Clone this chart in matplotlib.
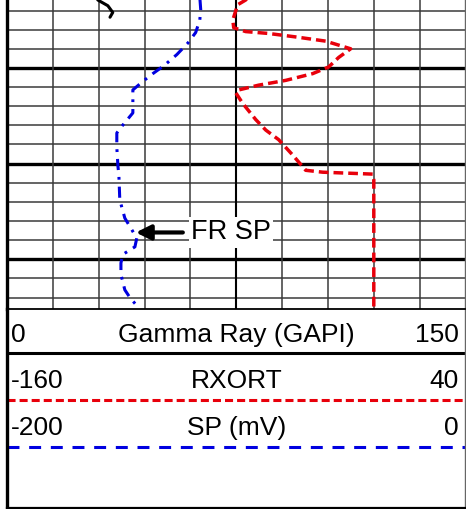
import numpy as np
import matplotlib
matplotlib.use("Agg")
from matplotlib import pyplot as plt

plt.rcParams['font.family'] = ['Liberation Sans', 'DejaVu Sans']
plt.rcParams['lines.scale_dashes'] = False

# depth (ft) and log readings
sp_depth = [1002.6, 1003.9, 1005.0, 1006.3, 1007.4, 1008.6, 1009.7, 1010.6, 1011.4,
            1012.3, 1013.7, 1014.7, 1016.1, 1016.8, 1018.3, 1020.3, 1021.2, 1023.8,
            1025.7, 1027.1, 1027.8, 1028.7, 1029.5, 1030.4, 1031.6, 1033.2, 1034.0, 1035.1]
sp_mv = [-115.9, -115.5, -115.9, -117.7, -121.1, -125.9, -131.2, -136.4, -140.7,
         -145.1, -145.1, -145.1, -149.9, -152.1, -152.1, -151.6, -151.2, -150.8,
         -148.6, -145.1, -143.4, -144.2, -149.5, -150.3, -150.3, -148.6, -146.4, -142.5]

rx_depth = [1002.4, 1002.9, 1003.4, 1005.0, 1005.8, 1006.2, 1006.4, 1006.8, 1007.2,
            1008.0, 1008.9, 1009.9, 1010.6, 1011.3, 1011.8, 1012.3, 1012.6, 1013.7,
            1015.4, 1016.5, 1017.5, 1019.1, 1020.7, 1020.9, 1021.1, 1021.7, 1035.3]
rxort = [-54.1, -55.9, -59.4, -61.5, -61.1, -55.9, -45.8, -32.8, -21.0,
         -10.1, -15.3, -19.7, -26.7, -38.4, -50.2, -58.9, -60.2, -57.2,
         -51.5, -47.1, -41.5, -35.4, -29.7, -22.3, -0.5, 0.0, 0.0]

gr_depth = [1002.6, 1002.9, 1003.5, 1004.2, 1004.7]
gr_gapi = [29.4, 29.7, 33.0, 34.6, 33.7]

arrow_depth = 1027.2
arrow_tip_sp = -143.8
arrow_tail_sp = -123.3

top_depth, bottom_depth = 1002.9, 1035.2
minor_depths = np.arange(1004, 1036, 2)
major_depths = [1010, 1020, 1030]
gr_lines = np.arange(15, 150, 15)

fig = plt.figure(figsize=(4.66, 5.09), dpi=100)
W, H = 466.0, 509.0

# main log track
ax = fig.add_axes([7 / W, 1 - 309 / H, 458.5 / W, 309 / H])
ax.set_xlim(0, 150)
ax.set_ylim(bottom_depth, top_depth)
for d in minor_depths:
    if d not in major_depths:
        ax.axhline(d, color='#3a3a3a', lw=1.1, zorder=0)
for d in major_depths:
    ax.axhline(d, color='black', lw=2.4, zorder=0)
for g in gr_lines:
    ax.axvline(g, color='black' if g == 75 else '#3a3a3a', lw=1.5 if g == 75 else 1.1, zorder=0)
ax.set_xticks([])
ax.set_yticks([])
ax.spines['top'].set_visible(False)
ax.spines['bottom'].set_visible(False)
ax.spines['left'].set_linewidth(2.4)
ax.spines['right'].set_linewidth(1.0)
ax.spines['right'].set_color('#666666')

ax.plot(gr_gapi, gr_depth, color='black', lw=2.2, solid_capstyle='round')

ax_rx = ax.twiny()
ax_rx.set_xlim(-160, 40)
ax_rx.plot(rxort, rx_depth, color='#e8000b', lw=2.5, dashes=(7.0, 3.6))
ax_rx.axis('off')

ax_sp = ax.twiny()
ax_sp.set_xlim(-200, 0)
ax_sp.plot(sp_mv, sp_depth, color='#0000e0', lw=2.2, dashes=(8.0, 5.0, 2.0, 5.0))
ax_sp.annotate('', xy=(arrow_tip_sp, arrow_depth), xytext=(arrow_tail_sp, arrow_depth),
               arrowprops=dict(arrowstyle='-|>', color='black', lw=3, mutation_scale=22,
                               shrinkA=0, shrinkB=0))
ax_sp.text(arrow_tail_sp + 3.6, arrow_depth, 'FR SP', fontsize=19.5, va='center', ha='left',
           bbox=dict(fc='white', ec='none', pad=1.5))
ax_sp.axis('off')

# header
hd = fig.add_axes([7 / W, 1 / H, 458.5 / W, 199 / H])
hd.set_xlim(7, 465.5)
hd.set_ylim(508, 309)
hd.set_xticks([])
hd.set_yticks([])
hd.spines['left'].set_linewidth(2.4)
hd.spines['top'].set_linewidth(1.3)
hd.spines['bottom'].set_linewidth(1.6)
hd.spines['right'].set_linewidth(1.0)
hd.spines['right'].set_color('#666666')

hd.axhline(353, color='black', lw=2.2)
hd.axhline(400, color='#e8000b', lw=2.2, dashes=(5.8, 2.9))
hd.axhline(447, color='#0000e0', lw=2.2, dashes=(8.6, 7.0))

rows = [(342, '0', 'Gamma Ray (GAPI)', '150'),
        (388, '-160', 'RXORT', '40'),
        (435, '-200', 'SP (mV)', '0')]
for y, lo, name, hi in rows:
    hd.text(11, y, lo, fontsize=19, ha='left', va='baseline')
    hd.text(236.5, y, name, fontsize=19, ha='center', va='baseline')
    hd.text(459, y, hi, fontsize=19, ha='right', va='baseline')

fig.savefig('out.png', dpi=100)
